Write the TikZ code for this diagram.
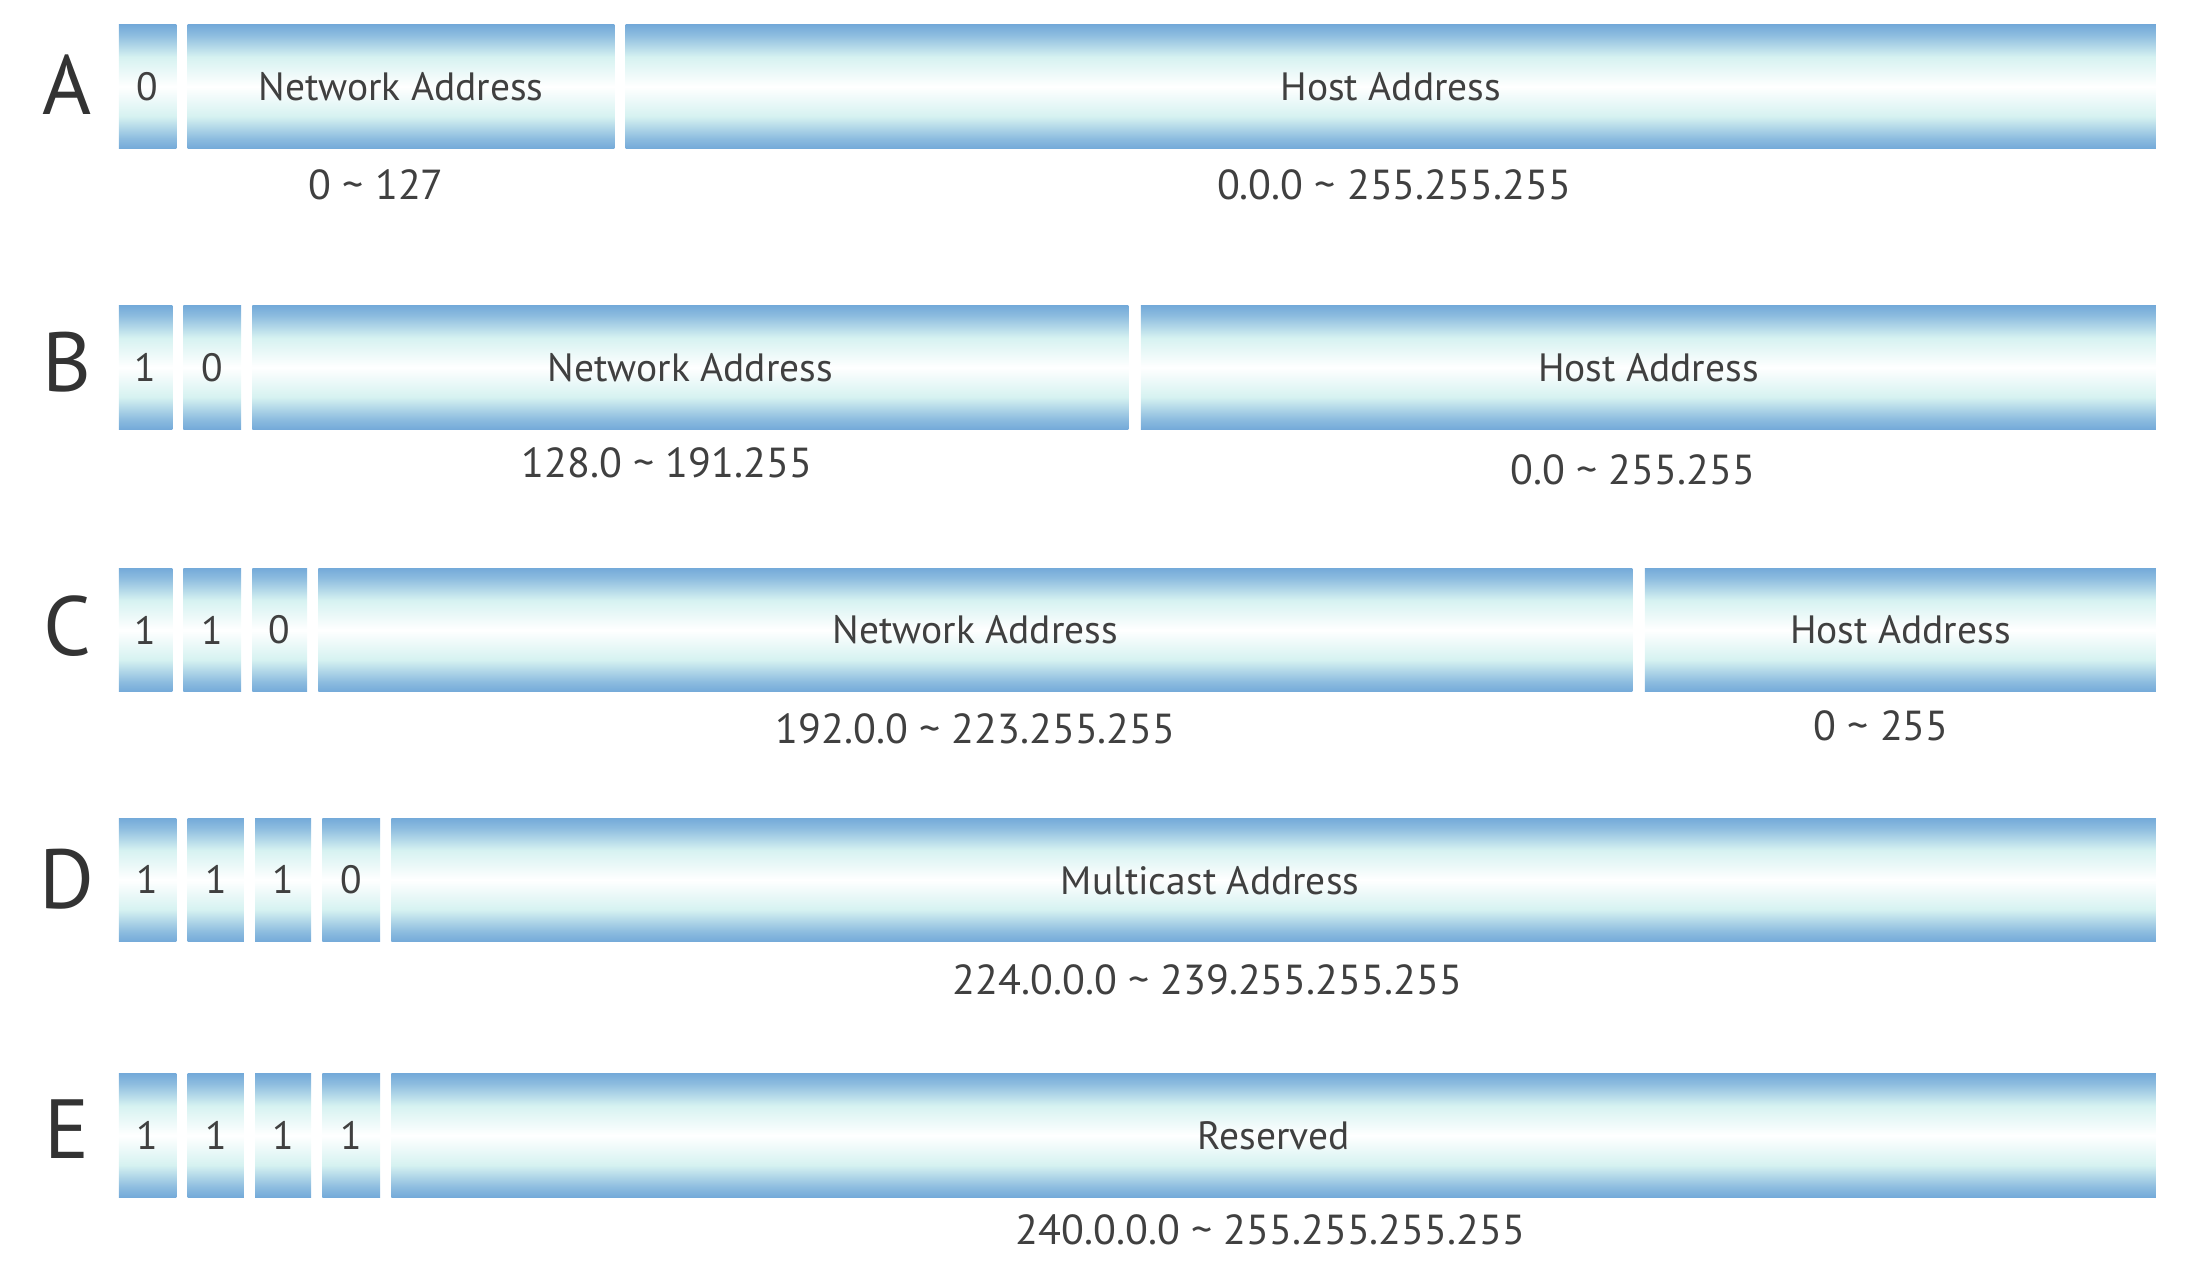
\documentclass[tikz,border=0pt]{standalone}
\usepackage{fontspec}
\setmainfont{PT Sans}

\definecolor{barblue}{HTML}{74AAD9}
\definecolor{barcyan}{HTML}{D6F2F1}
\definecolor{txtgray}{HTML}{404040}

% blue at the edges, white band in the middle
\pgfdeclareverticalshading{barshade}{100bp}{color(0bp)=(barblue); color(25bp)=(barblue); color(29bp)=(barblue!75!barcyan); color(38bp)=(barcyan); color(50bp)=(white); color(62bp)=(barcyan); color(71bp)=(barblue!75!barcyan); color(75bp)=(barblue); color(100bp)=(barblue)}

% name, left, right, top, text
\newcommand{\fieldbox}[5]{\node[field, minimum width={(#3-#2)*0.01cm}] (#1) at (#2,#4) {#5};}

\tikzset{
	field/.style={anchor=north west, inner sep=0pt, minimum height=0.88cm, shade, shading=barshade, text=txtgray, font=\fontsize{8}{9}\selectfont},
	cls/.style={text=txtgray!80!black, font=\fontsize{17}{19}\selectfont},
	iprange/.style={text=txtgray, font=\fontsize{8.5}{10}\selectfont}
}

\begin{document}
\begin{tikzpicture}[x=0.01cm,y=-0.01cm]
		\useasboundingbox (0,0) rectangle (1560,906);

		% class A
		\node[cls] (A) at (48,60) {A};
		\fieldbox{a1}{84}{125}{17}{0}
		\fieldbox{a2}{133}{437}{17}{Network Address}
		\fieldbox{a3}{445}{1535}{17}{Host Address}
		\node[iprange] (ra1) at (268,132) {0 \textasciitilde{} 127};
		\node[iprange] (ra2) at (993,132) {0.0.0 \textasciitilde{} 255.255.255};

		% class B
		\node[cls] (B) at (48,258) {B};
		\fieldbox{b1}{84}{122}{217}{1}
		\fieldbox{b2}{130}{171}{217}{0}
		\fieldbox{b3}{179}{803}{217}{Network Address}
		\fieldbox{b4}{812}{1535}{217}{Host Address}
		\node[iprange] (rb1) at (475,330) {128.0 \textasciitilde{} 191.255};
		\node[iprange] (rb2) at (1163,335) {0.0 \textasciitilde{} 255.255};

		% class C
		\node[cls] (C) at (48,446) {C};
		\fieldbox{c1}{84}{122}{404}{1}
		\fieldbox{c2}{130}{171}{404}{1}
		\fieldbox{c3}{179}{218}{404}{0}
		\fieldbox{c4}{226}{1162}{404}{Network Address}
		\fieldbox{c5}{1171}{1535}{404}{Host Address}
		\node[iprange] (rc1) at (695,519) {192.0.0 \textasciitilde{} 223.255.255};
		\node[iprange] (rc2) at (1340,517) {0 \textasciitilde{} 255};

		% class D
		\node[cls] (D) at (48,626) {D};
		\fieldbox{d1}{84}{125}{582}{1}
		\fieldbox{d2}{133}{173}{582}{1}
		\fieldbox{d3}{181}{221}{582}{1}
		\fieldbox{d4}{229}{270}{582}{0}
		\fieldbox{d5}{278}{1535}{582}{}
		\node[text=txtgray, font=\fontsize{8}{9}\selectfont] (dtxt) at (862,627) {Multicast Address};
		\node[iprange] (rd1) at (860,698) {224.0.0.0 \textasciitilde{} 239.255.255.255};

		% class E
		\node[cls] (E) at (48,804) {E};
		\fieldbox{e1}{84}{125}{764}{1}
		\fieldbox{e2}{133}{173}{764}{1}
		\fieldbox{e3}{181}{221}{764}{1}
		\fieldbox{e4}{229}{270}{764}{1}
		\fieldbox{e5}{278}{1535}{764}{Reserved}
		\node[iprange] (re1) at (905,876) {240.0.0.0 \textasciitilde{} 255.255.255.255};
\end{tikzpicture}
\end{document}
